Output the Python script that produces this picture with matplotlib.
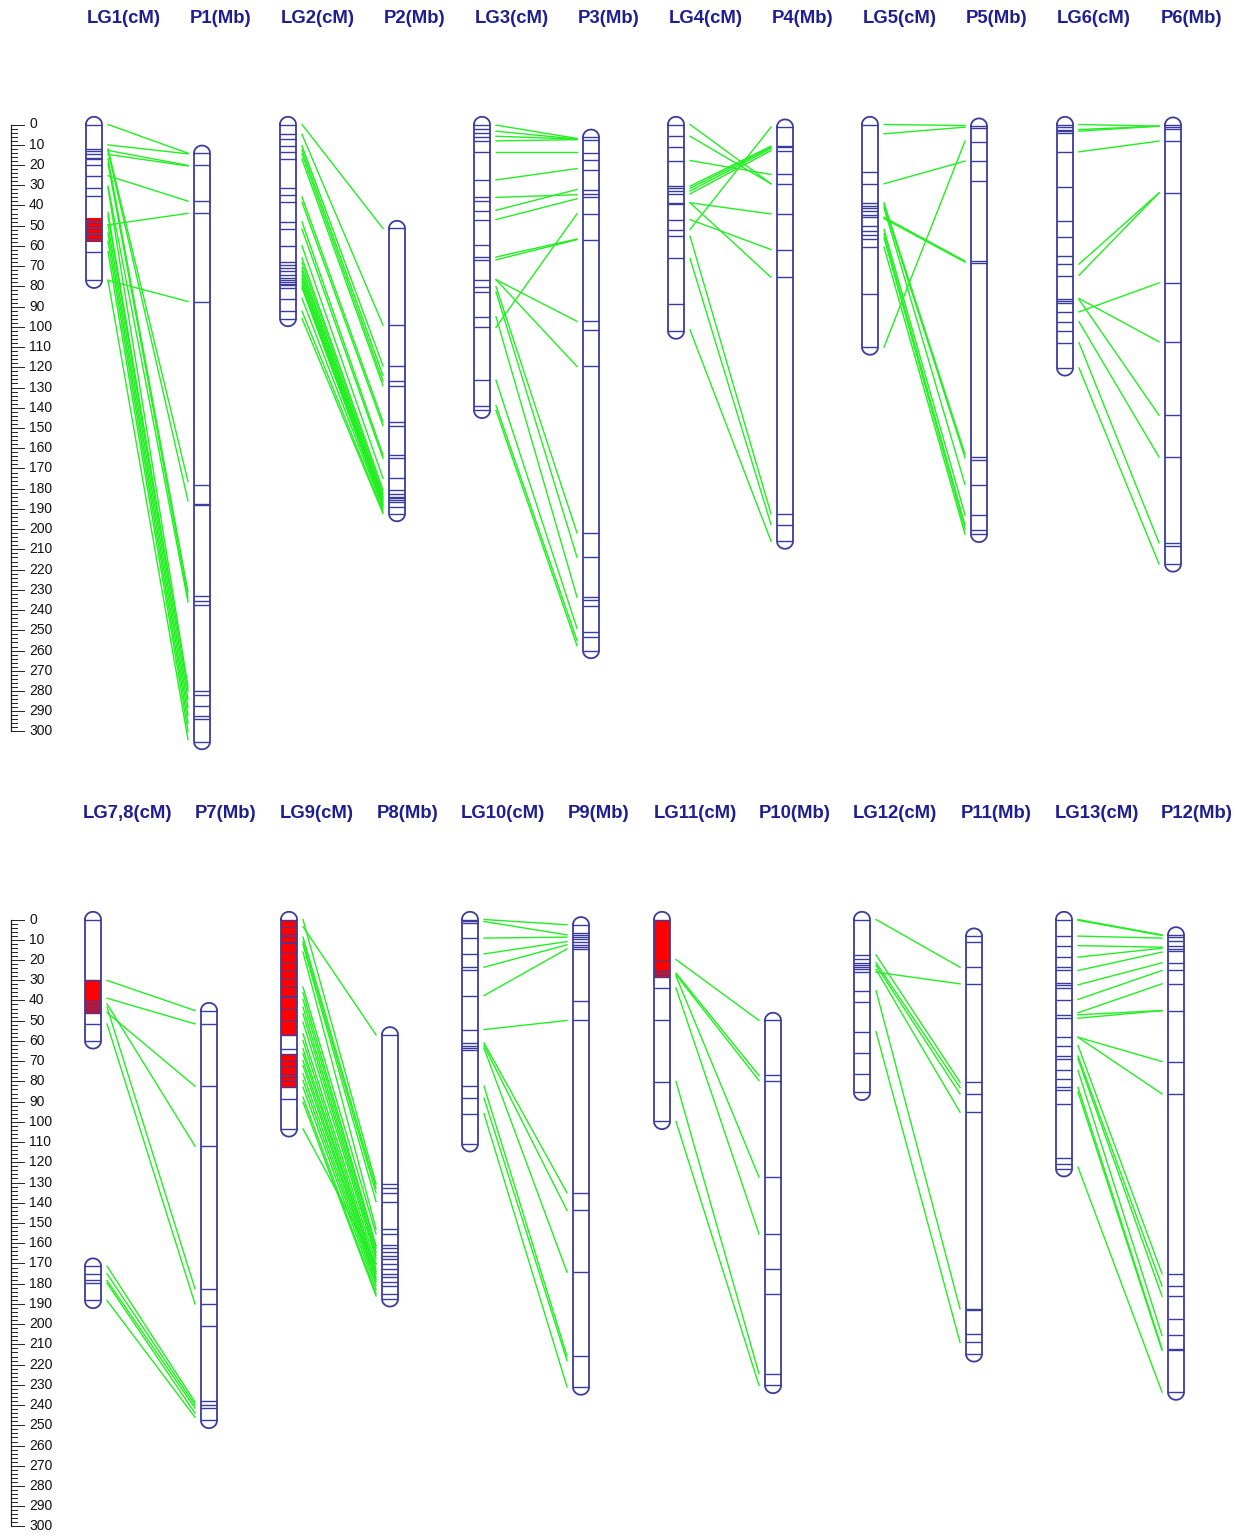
import numpy as np
import matplotlib
matplotlib.use("Agg")
import matplotlib.pyplot as plt

plt.rcParams["font.family"] = ["Liberation Sans", "DejaVu Sans"]

# 标记位置（LG 单位 cM，P 单位 Mb）
lg1_marks = [0, 12.1, 13.2, 14.8, 16.8, 17.2, 20.2, 25.3, 31.4, 35.4, 47.2, 48.6, 50.2, 51.6,
             53.2, 54.7, 56.1, 57.7, 62.8, 77]
red1 = [(46, 58)]
p1_marks = [14.2, 20.2, 37.9, 43.9, 87.5, 178, 187.5, 188, 233, 235.5, 237.5, 280, 282, 287.5,
            292.5, 294, 305]
links1 = [(0, 14.2), (10.1, 14.5), (12.8, 20.2), (14.8, 20.5), (25.3, 37.9), (49.6, 43.9),
          (77, 87.5), (12.1, 176.5), (13.2, 186), (16.8, 231), (19.2, 234), (30.4, 236),
          (31.4, 278), (43.5, 280), (45.1, 284), (49.6, 288), (53.6, 292), (57.7, 296),
          (62.8, 300), (77, 304)]

lg2_marks = [0, 4.9, 7.2, 10.5, 13.8, 17.1, 31.3, 34.6, 38.5, 48.1, 51.7, 60, 68.2, 69.5, 70.8,
             72.5, 74.5, 76.1, 77, 77.8, 78.6, 79.4, 80.7, 86, 92.3, 95.9]
p2_marks = [51.4, 99.2, 119.3, 126.8, 129.1, 146.9, 148.9, 163.4, 165, 174.9, 180.7, 182.4, 184,
            184.8, 185.7, 186.5, 189, 192.3]
links2 = [(0, 51.4), (4.9, 99.2), (10.5, 119.3), (12.5, 124), (14.5, 126.8), (17.1, 129.1),
          (35.8, 146.9), (38.5, 148.9), (48.1, 163.4), (51.7, 165), (60, 174.9), (66, 180.7),
          (68.2, 182.4), (70.8, 184), (72.5, 184.8), (74.5, 185.7), (76.1, 186.5), (77.8, 187.5),
          (79.4, 188.2), (80.7, 189), (86, 190), (92.3, 191.5), (95.9, 192.3)]

lg3_marks = [0, 2.1, 4.1, 6.3, 8.1, 13.7, 27.4, 36, 37.7, 42.9, 47, 59.5, 65.5, 66.9, 76.7, 80.1,
             83, 95, 100.2, 126.4, 138.9, 141.3]
p3_marks = [6.3, 7.5, 14.1, 17.5, 22.6, 32.6, 34.3, 36, 44.1, 56.9, 97.3, 101.5, 119.6, 201.9,
            213.9, 233.6, 235, 237.9, 250.8, 253.3, 260]
links3 = [(0.3, 6.9), (3.3, 7.2), (5.8, 7.2), (8.1, 7.5), (13.7, 13.7), (27.4, 21.8), (36, 34.7),
          (42.4, 32.1), (47, 36.7), (65.5, 56.6), (66.9, 56.9), (100.2, 44.1), (76.7, 97.3),
          (76.7, 119.6), (80.1, 201.9), (82.7, 213.9), (95, 233.6), (126.4, 249), (138.9, 255),
          (141.3, 257.6)]

lg4_marks = [0, 5.8, 11.2, 17.8, 30.5, 31.6, 32.9, 34.3, 38.7, 39.5, 47, 51.9, 55.2, 66.2, 88.6,
             102.1]
p4_marks = [1.3, 10.7, 11.2, 12.9, 24.7, 29.3, 44.2, 61.8, 75.5, 192.4, 197.7, 205.9]
links4 = [(0, 29.3), (5.8, 29.3), (17.8, 24.7), (30.5, 10.7), (31.6, 11.2), (32.9, 11.9),
          (34.3, 12.9), (51.9, 1.3), (38.7, 44.2), (38.7, 75.5), (47, 61.8), (55.2, 192.4),
          (66.2, 197.7), (101.5, 205.9)]

lg5_marks = [0, 23.4, 29.3, 38.7, 40.4, 41.5, 42.8, 44.5, 45.8, 50.2, 52.4, 54.4, 56.8, 60.6, 84,
             110]
p5_marks = [0.8, 1.6, 8.6, 18.1, 28, 67.5, 68.3, 164.5, 165.6, 178, 193.1, 200.2, 202.6]
links5 = [(0, 0.5), (4.6, 1.3), (29.3, 18.1), (110, 8.2), (45.8, 67.5), (46.5, 68), (38.7, 163),
          (39.9, 164.7), (41.2, 178), (51.9, 193), (54, 198), (56, 200), (60.6, 202.5)]

lg6_marks = [0, 1.3, 2.5, 3.3, 4.1, 13.5, 31, 47.8, 55.7, 65.1, 68.9, 75, 86, 87.3, 88.1, 92.6,
             97.5, 102.1, 107.9, 120.3]
p6_marks = [0.3, 1.3, 2, 8.2, 33.8, 78.3, 107.4, 143.7, 164.4, 206.8, 208.5, 217.2]
links6 = [(0, 0.8), (2.5, 0.8), (3.3, 0.8), (13.5, 8.2), (69, 33.8), (74.5, 33.8), (92.6, 78.3),
          (86, 107.4), (86.5, 143.7), (97.5, 164.4), (107.9, 206.8), (120.3, 217.2)]

lg7_marks = [0, 30.1, 39.9, 40.7, 42, 43.2, 44.3, 45.3, 46.1, 51.6, 60]
red7 = [(30.1, 46.1)]
lg8_marks = [171.3, 175.1, 178.4, 179.7, 188.3]
p7_marks = [45, 51.6, 82.4, 112, 182.5, 190, 201, 238.2, 239.9, 241.5, 247.6]
links7 = [(30.1, 45), (38.9, 51.6), (46, 82.4), (41.7, 112), (43.3, 182.5), (51.6, 190),
          (171.3, 238.5), (175.1, 240), (178.4, 241.5), (179.7, 244), (188.3, 246)]

lg9_marks = [0, 3.6, 7.1, 8.7, 10.9, 11.5, 16.1, 21.1, 25.2, 29.3, 33.4, 37.6, 38.4, 44.2, 49.9,
             57.3, 63.9, 66.4, 69.7, 72.2, 76.3, 77.9, 79.6, 82.9, 88.6, 103.5]
red9 = [(0, 57.3), (66.4, 82.9)]
p8_marks = [57, 130.6, 132.8, 135.1, 139.4, 152.9, 155.4, 161.1, 162.4, 164.4, 166.1, 167.7,
            170.2, 172.7, 175.1, 176.8, 179.2, 180.9, 185, 187.5]
links9 = [(0, 130.6), (3.6, 57), (8.7, 132.8), (10.9, 135.1), (12.5, 139.4), (16.1, 152.9),
          (33.4, 155.4), (36.2, 161.1), (39.5, 162.4), (43.3, 164.4), (46.6, 166.1), (50.7, 167.7),
          (56.5, 170.2), (59.8, 172.7), (63.9, 174), (66.4, 175.1), (69.7, 176.8), (72.2, 178),
          (76.3, 179.2), (79.6, 180.9), (82.9, 183), (87.8, 185), (90.3, 186), (103.5, 170.2)]

lg10_marks = [0, 0.5, 1.6, 9.2, 17, 23.6, 25.2, 37.6, 54.4, 61, 62.3, 63.6, 64.7, 82.4, 88.3, 96,
              110.9]
p9_marks = [2.6, 6.6, 7.6, 8.7, 9.6, 10.9, 12.5, 13.7, 14.5, 40.5, 49.9, 135.1, 143.8, 174.3,
            215.8, 231.1]
links10 = [(0, 2.6), (1, 7.6), (9.2, 8.7), (17, 10.9), (23.6, 12.5), (37.6, 14.5), (54.4, 49.9),
           (61, 135.1), (62.3, 143.8), (63.6, 174.3), (82.4, 215.8), (88.3, 218), (96, 231)]

lg11_marks = [0, 19.8, 25.2, 26, 27.3, 28.5, 33.9, 49.9, 80.1, 99.8]
red11 = [(0, 28.5)]
p10_marks = [49.9, 77.1, 79.6, 127.3, 155.4, 172.7, 185, 224.5, 230.3]
links11 = [(19.8, 49.9), (26.5, 77.1), (27.3, 79.6), (28, 127.3), (33.9, 155.4), (80.1, 224.5),
           (99.8, 230.3)]

lg12_marks = [0, 17.5, 19.4, 21.4, 22.7, 23.6, 24.7, 26, 35.1, 40.9, 55.4, 65.9, 76.3, 85.5]
p11_marks = [8.2, 10.9, 23.6, 31.8, 80.4, 86.2, 95.2, 192.4, 193.2, 204.8, 208.9, 214.7]
links12 = [(0, 23.6), (17.5, 80.4), (21.4, 83), (22.7, 86.2), (24.7, 95.2), (26, 31.8),
           (35.1, 192.4), (55.4, 209)]

lg13_marks = [0, 8.2, 12.9, 18.6, 23.6, 25.2, 31.3, 32.6, 33.9, 40, 47.1, 48.8, 58.2, 62.3, 67.5,
              68.9, 74.6, 78.8, 82.9, 84.5, 91.1, 117.9, 120.8, 123.2]
p12_marks = [7.6, 8.7, 10.4, 12.9, 14.5, 15.8, 21.4, 25.2, 31.8, 45, 70.2, 86.2, 175.1, 181.2,
             186.2, 197.4, 205.6, 212.2, 213, 233.6]
links13 = [(0, 7.6), (0.4, 7.9), (8.2, 9.2), (12.9, 13.7), (18.6, 14.2), (25.2, 16.1),
           (32.3, 21.4), (39.5, 25.2), (46.1, 31.8), (47.1, 45), (48.8, 45), (58.2, 70.2),
           (58.2, 86.2), (62.3, 175.1), (67.5, 181.2), (68.9, 186.2), (74.6, 205.6),
           (82.9, 212.2), (85.3, 213), (122.4, 233.6)]

lg_titles_top = ["LG1(cM)", "LG2(cM)", "LG3(cM)", "LG4(cM)", "LG5(cM)", "LG6(cM)"]
p_titles_top = ["P1(Mb)", "P2(Mb)", "P3(Mb)", "P4(Mb)", "P5(Mb)", "P6(Mb)"]
lg_titles_bot = ["LG7,8(cM)", "LG9(cM)", "LG10(cM)", "LG11(cM)", "LG12(cM)", "LG13(cM)"]
p_titles_bot = ["P7(Mb)", "P8(Mb)", "P9(Mb)", "P10(Mb)", "P11(Mb)", "P12(Mb)"]

# 每一行的连锁群 / 物理图组合
top_pairs = [
    ([lg1_marks], red1, p1_marks, links1),
    ([lg2_marks], [], p2_marks, links2),
    ([lg3_marks], [], p3_marks, links3),
    ([lg4_marks], [], p4_marks, links4),
    ([lg5_marks], [], p5_marks, links5),
    ([lg6_marks], [], p6_marks, links6),
]
bot_pairs = [
    ([lg7_marks, lg8_marks], red7, p7_marks, links7),
    ([lg9_marks], red9, p8_marks, links9),
    ([lg10_marks], [], p9_marks, links10),
    ([lg11_marks], red11, p10_marks, links11),
    ([lg12_marks], [], p11_marks, links12),
    ([lg13_marks], [], p12_marks, links13),
]

# 版面位置（像素）
top_lg_x = [94, 288, 482, 676, 870, 1065]
top_p_x = [202, 397, 591, 785, 979, 1173]
top_lg_tx = [124, 318, 512, 706, 900, 1094]
top_p_tx = [221, 415, 609, 803, 997, 1191]
bot_lg_x = [93, 289, 470, 662, 862, 1064]
bot_p_x = [209, 390, 581, 773, 974, 1176]
bot_lg_tx = [128, 317, 503, 695, 895, 1097]
bot_p_tx = [226, 408, 599, 795, 996, 1197]

BLUE = "#3c3c9c"
TITLE = "#1e1e90"
GREEN = "#22ee22"
W = 16          # 染色体宽度（像素）
CAP = 3.8       # 端帽高度（cM）
PX = 2.0233     # 每单位像素数
W_PX, H_PX = 1235, 1538

fig = plt.figure(figsize=(W_PX / 100, H_PX / 100), dpi=100)


def make_axes(y0_px, y1_px, zero_px):
    ax = fig.add_axes([0, 1 - y1_px / H_PX, 1, (y1_px - y0_px) / H_PX])
    ax.set_xlim(0, W_PX)
    ax.set_ylim((y1_px - zero_px) / PX, (y0_px - zero_px) / PX)
    ax.axis("off")
    return ax


def draw_chrom(ax, xc, marks, reds=()):
    top, bot = min(marks), max(marks)
    r = W / 2
    t = np.linspace(0, np.pi, 40)
    for a, b in reds:
        ax.fill_between([xc - r, xc + r], a, b, color="red", lw=0, zorder=2)
    xs = np.concatenate([[xc - r, xc - r], xc - r * np.cos(t), [xc + r, xc + r],
                         xc + r * np.cos(t)])
    ys = np.concatenate([[top, bot], bot + CAP * np.sin(t), [bot, top],
                         top - CAP * np.sin(t)])
    ax.plot(xs, ys, color=BLUE, lw=1.3, zorder=3)
    # 红色区段内的标记线画细一些
    inside = [m for m in marks if any(a < m < b for a, b in reds)]
    outside = [m for m in marks if m not in inside]
    ax.hlines(outside, xc - r, xc + r, color=BLUE, lw=1.0, zorder=3)
    if inside:
        ax.hlines(inside, xc - r, xc + r, color=BLUE, lw=0.6, zorder=3)


def draw_scale(ax):
    ax.plot([11, 11], [0, 300], color="#222222", lw=0.9)
    for v in range(0, 301, 2):
        x1 = 24 if v % 10 == 0 else 17
        ax.plot([11, x1], [v, v], color="#222222", lw=0.7)
    for v in range(0, 301, 10):
        ax.text(29, v, str(v), fontsize=10, va="center", ha="left", color="#111111")


def draw_row(ax, pairs, lg_x, p_x, lg_tx, p_tx, lg_titles, p_titles):
    draw_scale(ax)
    for i, (segs, reds, pm, links) in enumerate(pairs):
        for seg in segs:
            seg_reds = [rr for rr in reds if min(seg) <= rr[0] <= max(seg)]
            draw_chrom(ax, lg_x[i], seg, seg_reds)
        draw_chrom(ax, p_x[i], pm)
        xa = lg_x[i] + W / 2 + 6
        xb = p_x[i] - W / 2 - 6
        for a, b in links:
            ax.plot([xa, xb], [a, b], color=GREEN, lw=1.0, zorder=1)
        ax.text(lg_tx[i], -52.5, lg_titles[i], fontsize=13.3, fontweight="bold",
                color=TITLE, ha="center", va="center")
        ax.text(p_tx[i], -52.5, p_titles[i], fontsize=13.3, fontweight="bold",
                color=TITLE, ha="center", va="center")


ax_top = make_axes(0, 769, 124.5)
ax_bot = make_axes(769, H_PX, 919.5)
draw_row(ax_top, top_pairs, top_lg_x, top_p_x, top_lg_tx, top_p_tx, lg_titles_top, p_titles_top)
draw_row(ax_bot, bot_pairs, bot_lg_x, bot_p_x, bot_lg_tx, bot_p_tx, lg_titles_bot, p_titles_bot)

fig.savefig("out.png", dpi=100, facecolor="white")
